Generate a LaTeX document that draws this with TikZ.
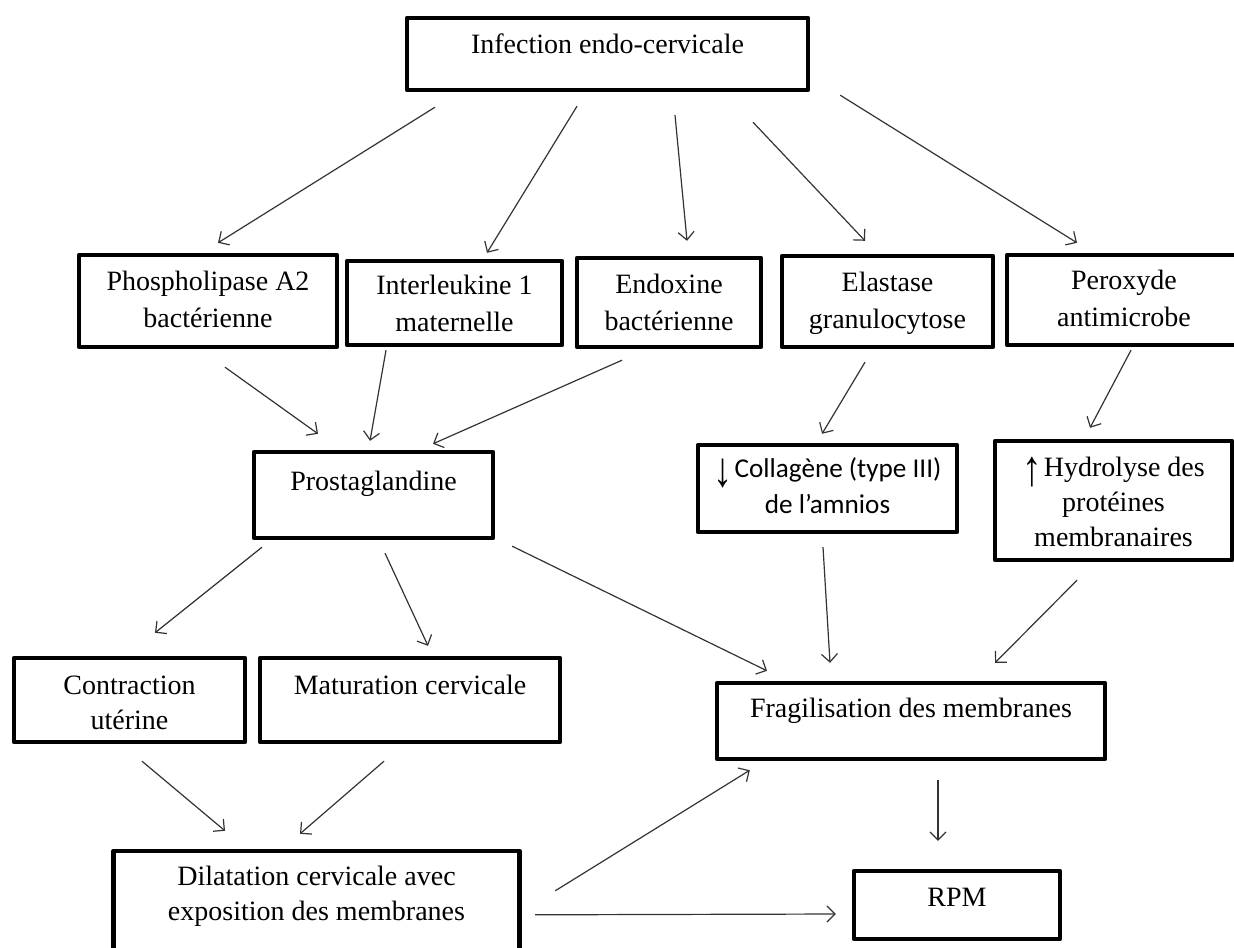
\documentclass[tikz,border=0pt]{standalone}
\usepackage{fontspec}
\setmainfont{Liberation Serif}
\newfontfamily\calfont{Carlito}
\newfontfamily\arrowfont{Liberation Sans}
\usepackage{tikz}
\usetikzlibrary{arrows.meta}

\newlength{\px}
\setlength{\px}{0.5pt}
% text of a box: width, height, first baseline from top (in px), text
\newcommand{\boxtext}[4]{\parbox[c][#2\px][t]{#1\px}{\centering\rule{0pt}{#3\px}#4}}
% tall thin arrow in front of a line
\newcommand{\tallarrow}[1]{\raisebox{-4.5pt}{\scalebox{1.4}[1.8]{\arrowfont #1}}\kern1pt}

\begin{document}
\begin{tikzpicture}[
    x=0.5pt, y=-0.5pt,
    box/.style={draw, line width=2.2pt, inner sep=0pt, line join=round, font=\fontsize{14}{17.5}\selectfont},
    rowtwo/.style={font=\fontsize{14}{18.5}\selectfont},
    arrow/.style={-{Straight Barb[length=4pt,width=8pt]}, line width=0.6pt, color=black!80}
]
\useasboundingbox (0,0) rectangle (1234,947);
\clip (0,0) rectangle (1234,947);

% Top
\node[box] (infection) at (607.5,54) {\boxtext{401}{72}{36}{Infection endo-cervicale}};

% Second row
\node[box, rowtwo] (phospho) at (208,301) {\boxtext{258}{92}{35}{Phospholipase A2\\ bactérienne}};
\node[box, rowtwo] (interleukine) at (454.5,303) {\boxtext{215}{84}{33}{Interleukine 1\\ maternelle}};
\node[box, rowtwo] (endoxine) at (669,302.5) {\boxtext{184}{89}{35}{Endoxine\\ bactérienne}};
\node[box, rowtwo] (elastase) at (887.5,301.5) {\boxtext{211}{91}{35}{Elastase\\ granulocytose}};
\node[box, rowtwo] (peroxyde) at (1124,300) {\boxtext{234}{90}{34}{Peroxyde\\ antimicrobe}};

% Third row
\node[box] (prosta) at (373.5,495) {\boxtext{239}{86}{38}{Prostaglandine}};
\node[box] (collagene) at (827.5,488.5) {\boxtext{259}{87}{32}{\calfont\fontsize{13.6}{18}\selectfont\tallarrow{↓}Collagène (type III)\\ de l’amnios}};
\node[box] (hydrolyse) at (1113.5,500.5) {\boxtext{237}{119}{35}{\tallarrow{↑}Hydrolyse des\\ protéines\\ membranaires}};

% Fourth row
\node[box] (contraction) at (129.5,700) {\boxtext{231}{84}{36}{Contraction\\ utérine}};
\node[box] (maturation) at (410,700) {\boxtext{300}{84}{36}{Maturation cervicale}};
\node[box] (fragilisation) at (911,721) {\boxtext{388}{76}{34}{Fragilisation des membranes}};

% Bottom
\node[box] (dilatation) at (316.5,906) {\boxtext{406}{110}{34}{Dilatation cervicale avec\\ exposition des membranes}};
\node[box] (rpm) at (957,905) {\boxtext{206}{68}{35}{RPM}};

% Arrows from the infection
\draw[arrow] ([shift={(-172.5,15)}]infection.south) -- ([shift={(10,-10)}]phospho.north);
\draw[arrow] ([shift={(-30.5,14)}]infection.south) -- ([shift={(32.5,-6)}]interleukine.north);
\draw[arrow] ([shift={(67.5,23)}]infection.south) -- ([shift={(18,-15)}]endoxine.north);
\draw[arrow] ([shift={(145.5,30)}]infection.south) -- ([shift={(-22.5,-13)}]elastase.north);
\draw[arrow] ([shift={(30,3)}]infection.south east) -- ([shift={(-47,-10)}]peroxyde.north);

% Towards prostaglandine
\draw[arrow] ([shift={(17,18)}]phospho.south) -- ([shift={(-55.5,-16)}]prosta.north);
\draw[arrow] ([shift={(-68.5,3)}]interleukine.south) -- ([shift={(-3.5,-9)}]prosta.north);
\draw[arrow] ([shift={(-47,11)}]endoxine.south) -- ([shift={(59.5,-6)}]prosta.north);

% Right branch
\draw[arrow] ([shift={(-22.5,13)}]elastase.south) -- ([shift={(-5.5,-9)}]collagene.north);
\draw[arrow] ([shift={(7,3)}]peroxyde.south) -- ([shift={(-23.5,-11)}]hydrolyse.north);

% From prostaglandine
\draw[arrow] ([shift={(-111.5,7)}]prosta.south) -- ([shift={(25.5,-23)}]contraction.north);
\draw[arrow] ([shift={(11.5,13)}]prosta.south) -- ([shift={(18,-10)}]maturation.north);
\draw[arrow] ([shift={(17,6)}]prosta.south east) -- ([shift={(-144,-10)}]fragilisation.north);

% Into fragilisation
\draw[arrow] ([shift={(-4.5,13)}]collagene.south) -- ([shift={(-81,-18)}]fragilisation.north);
\draw[arrow] ([shift={(-36.5,18)}]hydrolyse.south) -- ([shift={(84,-18)}]fragilisation.north);

% Into dilatation
\draw[arrow] ([shift={(12.5,17)}]contraction.south) -- ([shift={(-91.5,-18)}]dilatation.north);
\draw[arrow] ([shift={(-26,17)}]maturation.south) -- ([shift={(-16.5,-15)}]dilatation.north);

% Towards RPM
\draw[arrow] ([shift={(33.5,42)}]dilatation.north east) -- ([shift={(35,9)}]fragilisation.south west);
\draw[arrow] ([shift={(13.5,66)}]dilatation.north east) -- ([shift={(-16,9)}]rpm.west);
\draw[arrow] ([shift={(27,19)}]fragilisation.south) -- ([shift={(-19,-28)}]rpm.north);

\end{tikzpicture}
\end{document}
